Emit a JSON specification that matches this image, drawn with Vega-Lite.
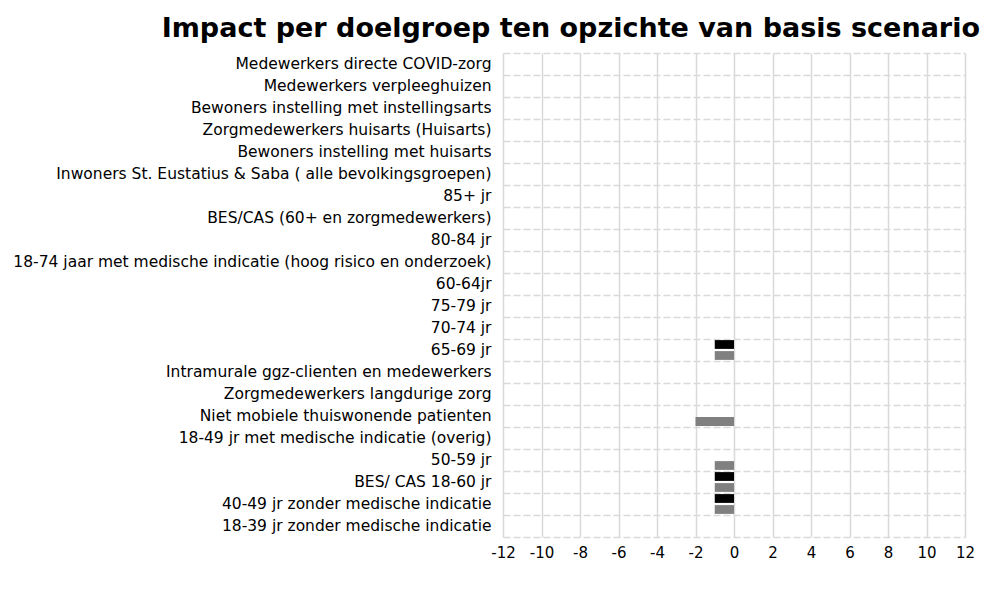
{
  "$schema": "https://vega.github.io/schema/vega-lite/v6.json",
  "autosize": "none",
  "width": 462,
  "height": 484,
  "padding": {"left": 503, "top": 53, "right": 24, "bottom": 66},
  "background": "white",
  "title": {
    "text": "Impact per doelgroep ten opzichte van basis scenario",
    "font": "DejaVu Sans",
    "fontWeight": "bold",
    "fontSize": 27,
    "color": "black",
    "anchor": "end",
    "frame": "group",
    "baseline": "alphabetic",
    "offset": 16,
    "dx": 15,
    "dy": 27
  },
  "config": {
    "view": {"stroke": null},
    "font": "DejaVu Sans"
  },
  "data": {
    "values": [
      {"groep": "Medewerkers directe COVID-zorg", "reeks": "A", "impact": 0},
      {"groep": "Medewerkers directe COVID-zorg", "reeks": "B", "impact": 0},
      {"groep": "Medewerkers verpleeghuizen", "reeks": "A", "impact": 0},
      {"groep": "Medewerkers verpleeghuizen", "reeks": "B", "impact": 0},
      {"groep": "Bewoners instelling met instellingsarts", "reeks": "A", "impact": 0},
      {"groep": "Bewoners instelling met instellingsarts", "reeks": "B", "impact": 0},
      {"groep": "Zorgmedewerkers huisarts (Huisarts)", "reeks": "A", "impact": 0},
      {"groep": "Zorgmedewerkers huisarts (Huisarts)", "reeks": "B", "impact": 0},
      {"groep": "Bewoners instelling met huisarts", "reeks": "A", "impact": 0},
      {"groep": "Bewoners instelling met huisarts", "reeks": "B", "impact": 0},
      {"groep": "Inwoners St. Eustatius & Saba ( alle bevolkingsgroepen)", "reeks": "A", "impact": 0},
      {"groep": "Inwoners St. Eustatius & Saba ( alle bevolkingsgroepen)", "reeks": "B", "impact": 0},
      {"groep": "85+ jr", "reeks": "A", "impact": 0},
      {"groep": "85+ jr", "reeks": "B", "impact": 0},
      {"groep": "BES/CAS (60+ en zorgmedewerkers)", "reeks": "A", "impact": 0},
      {"groep": "BES/CAS (60+ en zorgmedewerkers)", "reeks": "B", "impact": 0},
      {"groep": "80-84 jr", "reeks": "A", "impact": 0},
      {"groep": "80-84 jr", "reeks": "B", "impact": 0},
      {"groep": "18-74 jaar met medische indicatie (hoog risico en onderzoek)", "reeks": "A", "impact": 0},
      {"groep": "18-74 jaar met medische indicatie (hoog risico en onderzoek)", "reeks": "B", "impact": 0},
      {"groep": "60-64jr", "reeks": "A", "impact": 0},
      {"groep": "60-64jr", "reeks": "B", "impact": 0},
      {"groep": "75-79 jr", "reeks": "A", "impact": 0},
      {"groep": "75-79 jr", "reeks": "B", "impact": 0},
      {"groep": "70-74 jr", "reeks": "A", "impact": 0},
      {"groep": "70-74 jr", "reeks": "B", "impact": 0},
      {"groep": "65-69 jr", "reeks": "A", "impact": -1},
      {"groep": "65-69 jr", "reeks": "B", "impact": -1},
      {"groep": "Intramurale ggz-clienten en medewerkers", "reeks": "A", "impact": 0},
      {"groep": "Intramurale ggz-clienten en medewerkers", "reeks": "B", "impact": 0},
      {"groep": "Zorgmedewerkers langdurige zorg", "reeks": "A", "impact": 0},
      {"groep": "Zorgmedewerkers langdurige zorg", "reeks": "B", "impact": 0},
      {"groep": "Niet mobiele thuiswonende patienten", "reeks": "A", "impact": 0},
      {"groep": "Niet mobiele thuiswonende patienten", "reeks": "B", "impact": -2},
      {"groep": "18-49 jr met medische indicatie (overig)", "reeks": "A", "impact": 0},
      {"groep": "18-49 jr met medische indicatie (overig)", "reeks": "B", "impact": 0},
      {"groep": "50-59 jr\u00a0", "reeks": "A", "impact": 0},
      {"groep": "50-59 jr\u00a0", "reeks": "B", "impact": -1},
      {"groep": "BES/ CAS 18-60 jr\u00a0", "reeks": "A", "impact": -1},
      {"groep": "BES/ CAS 18-60 jr\u00a0", "reeks": "B", "impact": -1},
      {"groep": "40-49 jr zonder medische indicatie", "reeks": "A", "impact": -1},
      {"groep": "40-49 jr zonder medische indicatie", "reeks": "B", "impact": -1},
      {"groep": "18-39 jr zonder medische indicatie", "reeks": "A", "impact": 0},
      {"groep": "18-39 jr zonder medische indicatie", "reeks": "B", "impact": 0}
    ]
  },
  "mark": {"type": "bar"},
  "encoding": {
    "y": {
      "field": "groep",
      "type": "nominal",
      "sort": null,
      "scale": {"paddingInner": 0, "paddingOuter": 0},
      "axis": {
        "title": null,
        "ticks": false,
        "domain": false,
        "labelFont": "DejaVu Sans",
        "labelFontSize": 15.5,
        "labelColor": "black",
        "labelPadding": 12,
        "labelLimit": 0,
        "grid": true,
        "bandPosition": 0,
        "gridColor": "#d9d9d9",
        "gridWidth": 1.5,
        "gridDash": [7, 3]
      }
    },
    "yOffset": {
      "field": "reeks",
      "type": "nominal",
      "scale": {"paddingInner": 0.2, "paddingOuter": 0.1}
    },
    "x": {
      "field": "impact",
      "type": "quantitative",
      "scale": {"domain": [-12, 12], "nice": false, "zero": false},
      "axis": {
        "title": null,
        "values": [-12, -10, -8, -6, -4, -2, 0, 2, 4, 6, 8, 10, 12],
        "labelExpr": "'' + datum.value",
        "ticks": false,
        "domain": true,
        "domainColor": "#d9d9d9",
        "domainWidth": 1.5,
        "domainDash": [7, 3],
        "labelFont": "DejaVu Sans",
        "labelFontSize": 15,
        "labelColor": "black",
        "labelPadding": 8,
        "labelFlush": false,
        "grid": true,
        "gridColor": "#d9d9d9",
        "gridWidth": 1.5
      }
    },
    "color": {
      "field": "reeks",
      "type": "nominal",
      "scale": {"domain": ["A", "B"], "range": ["#000000", "#808080"]},
      "legend": null
    }
  }
}
